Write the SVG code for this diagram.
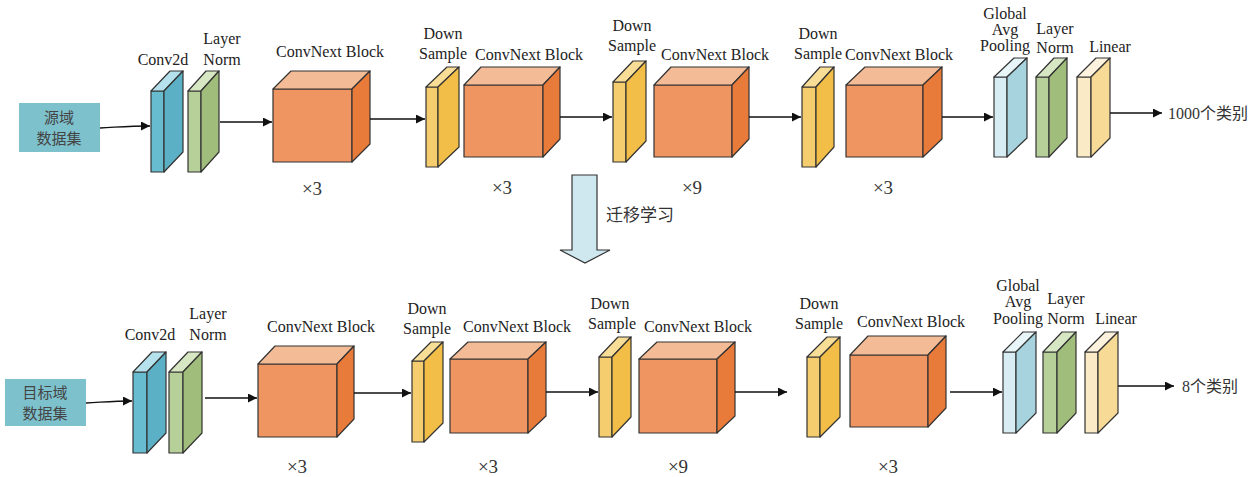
<svg xmlns="http://www.w3.org/2000/svg" width="1257" height="477" viewBox="0 0 1257 477">
<defs>
<marker id="ah" viewBox="0 0 10 10" refX="10" refY="5" markerWidth="11" markerHeight="9" markerUnits="userSpaceOnUse" orient="auto"><path d="M0,0 L10,5 L0,10 Z" fill="#111"/></marker>
<style>
.t{font-family:"Liberation Serif","Times New Roman",serif;font-size:16px;fill:#222;text-anchor:middle}
.x{font-family:"Liberation Serif","Times New Roman",serif;font-size:19px;fill:#333;text-anchor:middle}
.tl{font-family:"Liberation Serif","Noto Sans CJK SC",serif;font-size:16px;fill:#333}
.cn{font-family:"Noto Sans CJK SC","Noto Sans",sans-serif;font-size:15px;fill:#444;text-anchor:middle}
.c polygon,.c rect{stroke:#333;stroke-width:1.2;stroke-linejoin:round}
.cubeF{fill:#ee9562}.cubeT{fill:#f3bb96}.cubeR{fill:#e87a3a}
.dsF{fill:#f5cd6f}.dsT{fill:#f8dd96}.dsR{fill:#f2be47}
.cvF{fill:#68bccf}.cvT{fill:#b5e1ec}.cvR{fill:#5bb0c5}
.lnF{fill:#b7d09a}.lnT{fill:#d7e7c3}.lnR{fill:#a0bd7c}
.gpF{fill:#d8edf3}.gpT{fill:#e8f5f9}.gpR{fill:#a7d3df}
.liF{fill:#fbeac6}.liT{fill:#fdf2dd}.liR{fill:#f7da95}
.ln{stroke:#111;stroke-width:1.3;fill:none}
</style>
</defs>

<!-- ===== Top row ===== -->
<g id="src">
<rect x="19" y="103" width="81" height="49" fill="#7dc1cd"/>
<text class="cn" x="59" y="123">源域</text>
<text class="cn" x="59" y="144">数据集</text>
</g>
<g id="t_conv" class="c">
<rect class="cvF" x="151" y="91" width="13" height="81"/>
<polygon class="cvT" points="151,91 164,91 183,71 170,71"/>
<polygon class="cvR" points="164,91 183,71 183,152 164,172"/>
<text class="t" x="163" y="65">Conv2d</text>
</g>
<g id="t_ln1" class="c">
<rect class="lnF" x="188" y="91" width="13" height="81"/>
<polygon class="lnT" points="188,91 201,91 219,71 206,71"/>
<polygon class="lnR" points="201,91 219,71 219,152 201,172"/>
<text class="t" x="222" y="44">Layer</text>
<text class="t" x="222" y="65">Norm</text>
</g>
<g id="t_cb1" class="c">
<rect class="cubeF" x="273" y="89" width="79" height="73"/>
<polygon class="cubeT" points="273,89 352,89 370,71 291,71"/>
<polygon class="cubeR" points="352,89 370,71 370,144 352,162"/>
<text class="t" x="330" y="57">ConvNext Block</text>
<text class="x" x="312" y="195">×3</text>
</g>
<g id="t_ds1" class="c">
<rect class="dsF" x="426" y="87" width="12" height="80"/>
<polygon class="dsT" points="426,87 438,87 459,67 447,67"/>
<polygon class="dsR" points="438,87 459,67 459,147 438,167"/>
<text class="t" x="443" y="39">Down</text>
<text class="t" x="443" y="59">Sample</text>
</g>
<g id="t_cb2" class="c">
<rect class="cubeF" x="464" y="85" width="79" height="72"/>
<polygon class="cubeT" points="464,85 543,85 560,67 481,67"/>
<polygon class="cubeR" points="543,85 560,67 560,139 543,157"/>
<text class="t" x="529" y="60">ConvNext Block</text>
<text class="x" x="502" y="194">×3</text>
</g>
<g id="t_ds2" class="c">
<rect class="dsF" x="613" y="82" width="13" height="80"/>
<polygon class="dsT" points="613,82 626,82 646,61 633,61"/>
<polygon class="dsR" points="626,82 646,61 646,141 626,162"/>
<text class="t" x="632" y="31">Down</text>
<text class="t" x="632" y="51">Sample</text>
</g>
<g id="t_cb3" class="c">
<rect class="cubeF" x="654" y="85" width="78" height="72"/>
<polygon class="cubeT" points="654,85 732,85 749,67 671,67"/>
<polygon class="cubeR" points="732,85 749,67 749,139 732,157"/>
<text class="t" x="715" y="60">ConvNext Block</text>
<text class="x" x="692" y="194">×9</text>
</g>
<g id="t_ds3" class="c">
<rect class="dsF" x="802" y="87" width="14" height="80"/>
<polygon class="dsT" points="802,87 816,87 834,67 820,67"/>
<polygon class="dsR" points="816,87 834,67 834,147 816,167"/>
<text class="t" x="818" y="39">Down</text>
<text class="t" x="818" y="59">Sample</text>
</g>
<g id="t_cb4" class="c">
<rect class="cubeF" x="846" y="85" width="77" height="72"/>
<polygon class="cubeT" points="846,85 923,85 942,67 865,67"/>
<polygon class="cubeR" points="923,85 942,67 942,139 923,157"/>
<text class="t" x="899" y="60">ConvNext Block</text>
<text class="x" x="883" y="194">×3</text>
</g>
<g id="t_gap" class="c">
<rect class="gpF" x="994" y="77" width="13" height="80"/>
<polygon class="gpT" points="994,77 1007,77 1027,58 1014,58"/>
<polygon class="gpR" points="1007,77 1027,58 1027,138 1007,157"/>
<text class="t" x="1005" y="19">Global</text>
<text class="t" x="1005" y="35">Avg</text>
<text class="t" x="1005" y="51">Pooling</text>
</g>
<g id="t_ln2" class="c">
<rect class="lnF" x="1036" y="77" width="13" height="80"/>
<polygon class="lnT" points="1036,77 1049,77 1067,58 1054,58"/>
<polygon class="lnR" points="1049,77 1067,58 1067,138 1049,157"/>
<text class="t" x="1055" y="34">Layer</text>
<text class="t" x="1055" y="53">Norm</text>
</g>
<g id="t_lin" class="c">
<rect class="liF" x="1077" y="77" width="14" height="80"/>
<polygon class="liT" points="1077,77 1091,77 1110,58 1096,58"/>
<polygon class="liR" points="1091,77 1110,58 1110,138 1091,157"/>
<text class="t" x="1110" y="52">Linear</text>
</g>
<g id="t_out">
<text class="tl" x="1168" y="119">1000个类别</text>
</g>

<!-- transfer arrow -->
<g id="transfer">
<path d="M572,175 L597,175 L597,250 L610,250 L585,263 L560,250 L572,250 Z" fill="#cfe7ee" stroke="#333" stroke-width="1.2"/>
<text class="tl" x="606" y="221" style="font-size:17px">迁移学习</text>
</g>

<!-- ===== Bottom row ===== -->
<g id="tgt">
<rect x="5" y="379" width="81" height="47" fill="#7dc1cd"/>
<text class="cn" x="45" y="398">目标域</text>
<text class="cn" x="45" y="419">数据集</text>
</g>
<g id="b_conv" class="c">
<rect class="cvF" x="133" y="372" width="14" height="81"/>
<polygon class="cvT" points="133,372 147,372 166,352 152,352"/>
<polygon class="cvR" points="147,372 166,352 166,433 147,453"/>
<text class="t" x="150" y="340">Conv2d</text>
</g>
<g id="b_ln1" class="c">
<rect class="lnF" x="169" y="372" width="14" height="81"/>
<polygon class="lnT" points="169,372 183,372 202,352 188,352"/>
<polygon class="lnR" points="183,372 202,352 202,433 183,453"/>
<text class="t" x="208" y="319">Layer</text>
<text class="t" x="208" y="340">Norm</text>
</g>
<g id="b_cb1" class="c">
<rect class="cubeF" x="258" y="364" width="79" height="73"/>
<polygon class="cubeT" points="258,364 337,364 354,346 275,346"/>
<polygon class="cubeR" points="337,364 354,346 354,419 337,437"/>
<text class="t" x="321" y="332">ConvNext Block</text>
<text class="x" x="297" y="473">×3</text>
</g>
<g id="b_ds1" class="c">
<rect class="dsF" x="412" y="361" width="12" height="81"/>
<polygon class="dsT" points="412,361 424,361 443,342 431,342"/>
<polygon class="dsR" points="424,361 443,342 443,423 424,442"/>
<text class="t" x="427" y="314">Down</text>
<text class="t" x="427" y="334">Sample</text>
</g>
<g id="b_cb2" class="c">
<rect class="cubeF" x="450" y="359" width="78" height="74"/>
<polygon class="cubeT" points="450,359 528,359 546,342 468,342"/>
<polygon class="cubeR" points="528,359 546,342 546,416 528,433"/>
<text class="t" x="517" y="332">ConvNext Block</text>
<text class="x" x="488" y="473">×3</text>
</g>
<g id="b_ds2" class="c">
<rect class="dsF" x="599" y="357" width="13" height="80"/>
<polygon class="dsT" points="599,357 612,357 631,337 618,337"/>
<polygon class="dsR" points="612,357 631,337 631,417 612,437"/>
<text class="t" x="610" y="309">Down</text>
<text class="t" x="612" y="329">Sample</text>
</g>
<g id="b_cb3" class="c">
<rect class="cubeF" x="639" y="359" width="78" height="74"/>
<polygon class="cubeT" points="639,359 717,359 735,342 657,342"/>
<polygon class="cubeR" points="717,359 735,342 735,416 717,433"/>
<text class="t" x="698" y="332">ConvNext Block</text>
<text class="x" x="678" y="473">×9</text>
</g>
<g id="b_ds3" class="c">
<rect class="dsF" x="807" y="357" width="13" height="80"/>
<polygon class="dsT" points="807,357 820,357 840,337 827,337"/>
<polygon class="dsR" points="820,357 840,337 840,417 820,437"/>
<text class="t" x="819" y="309">Down</text>
<text class="t" x="819" y="329">Sample</text>
</g>
<g id="b_cb4" class="c">
<rect class="cubeF" x="850" y="355" width="78" height="72"/>
<polygon class="cubeT" points="850,355 928,355 946,336 868,336"/>
<polygon class="cubeR" points="928,355 946,336 946,408 928,427"/>
<text class="t" x="911" y="327">ConvNext Block</text>
<text class="x" x="888" y="473">×3</text>
</g>
<g id="b_gap" class="c">
<rect class="gpF" x="1003" y="352" width="13" height="81"/>
<polygon class="gpT" points="1003,352 1016,352 1036,332 1023,332"/>
<polygon class="gpR" points="1016,352 1036,332 1036,413 1016,433"/>
<text class="t" x="1018" y="291">Global</text>
<text class="t" x="1018" y="307">Avg</text>
<text class="t" x="1018" y="324">Pooling</text>
</g>
<g id="b_ln2" class="c">
<rect class="lnF" x="1043" y="352" width="14" height="81"/>
<polygon class="lnT" points="1043,352 1057,352 1076,332 1062,332"/>
<polygon class="lnR" points="1057,352 1076,332 1076,413 1057,433"/>
<text class="t" x="1066" y="304">Layer</text>
<text class="t" x="1066" y="324">Norm</text>
</g>
<g id="b_lin" class="c">
<rect class="liF" x="1085" y="352" width="13" height="81"/>
<polygon class="liT" points="1085,352 1098,352 1118,332 1105,332"/>
<polygon class="liR" points="1098,352 1118,332 1118,413 1098,433"/>
<text class="t" x="1116" y="324">Linear</text>
</g>
<g id="b_out">
<text class="tl" x="1182" y="392">8个类别</text>
</g>

<!-- ===== Connectors ===== -->
<g id="connectors">
<path class="ln" d="M100,128 C120,127 130,126 150,126" marker-end="url(#ah)"/>
<path class="ln" d="M220,122 L272,122" marker-end="url(#ah)"/>
<path class="ln" d="M370,119 L425,119" marker-end="url(#ah)"/>
<path class="ln" d="M560,117 L612,117" marker-end="url(#ah)"/>
<path class="ln" d="M749,117 L801,117" marker-end="url(#ah)"/>
<path class="ln" d="M942,117 L993,117" marker-end="url(#ah)"/>
<path class="ln" d="M1110,113 L1162,113" marker-end="url(#ah)"/>

<path class="ln" d="M86,403 C105,402 115,401 132,401" marker-end="url(#ah)"/>
<path class="ln" d="M205,398 L257,398" marker-end="url(#ah)"/>
<path class="ln" d="M354,393 L411,393" marker-end="url(#ah)"/>
<path class="ln" d="M546,392 L598,392" marker-end="url(#ah)"/>
<path class="ln" d="M735,392 L787,392" marker-end="url(#ah)"/>
<path class="ln" d="M950,392 L1002,392" marker-end="url(#ah)"/>
<path class="ln" d="M1118,386 L1174,386" marker-end="url(#ah)"/>
</g>
</svg>
